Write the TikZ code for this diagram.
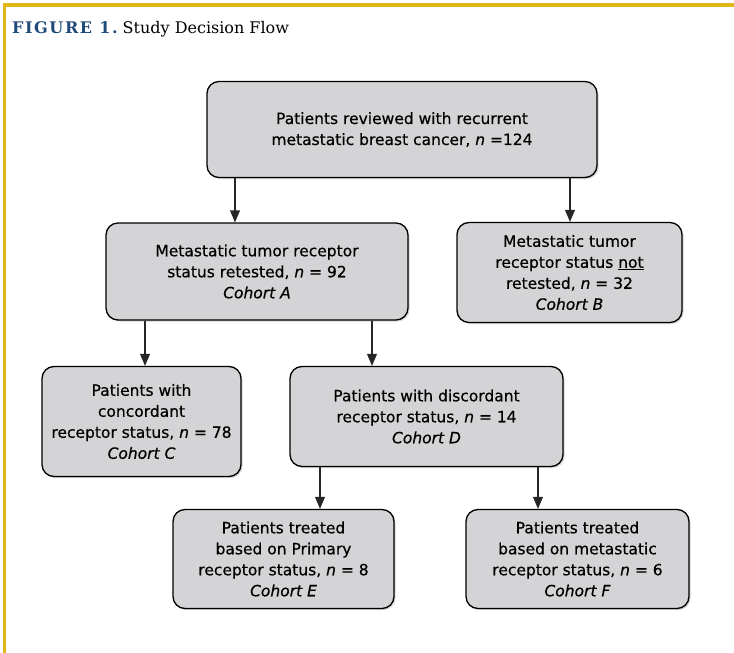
\documentclass[tikz,border=0pt]{standalone}
\usepackage{fontspec}
\setmainfont{DejaVu Sans}[FakeBold=0.5]
\newfontfamily\titlefont{DejaVu Serif}
\usepackage{tikz}
\usetikzlibrary{arrows,shadows}
\definecolor{gold}{HTML}{E2B616}
\definecolor{navy}{HTML}{1F4A7A}
\definecolor{boxgray}{HTML}{D4D4D6}
\newcommand{\nn}{\textit{n}}
\tikzset{
  flowbox/.style={draw=black, line width=1.3pt, fill=boxgray, rounded corners=12pt,
    align=center, inner sep=0pt, font=\fontsize{15.5}{21}\selectfont,
    drop shadow={shadow xshift=1.5pt, shadow yshift=-1.5pt, opacity=0.35}},
  flowarrow/.style={-triangle 45, line width=1.8pt, black!85}
}

\begin{document}
\begin{tikzpicture}[x=1pt,y=-1pt]
    \useasboundingbox (0,0) rectangle (734,653);
    % frame
    \draw [gold, line width=3.5pt] (3,5) -- (734,5);
    \draw [gold, line width=3.5pt] (4.5,3.5) -- (4.5,653);
    \node (title) [anchor=base west, inner sep=0pt] at (12,34)
      {\titlefont\fontsize{16}{18}\selectfont{\color{navy}\bfseries\addfontfeature{LetterSpace=10}FIGURE 1.}\ Study Decision Flow};

    \node (top) [flowbox, minimum width=390pt, minimum height=96pt] at (402,129.5)
      {Patients reviewed with recurrent\\ metastatic breast cancer, \nn{} =124};
    \node (A) [flowbox, minimum width=302pt, minimum height=97pt] at (257,271.5)
      {Metastatic tumor receptor\\ status retested, \nn{} = 92\\ \textit{Cohort A}};
    \node (B) [flowbox, minimum width=225pt, minimum height=100pt] at (569.5,272.5)
      {Metastatic tumor\\ receptor status \underline{not}\\ retested, \nn{} = 32\\ \textit{Cohort B}};
    \node (C) [flowbox, minimum width=199pt, minimum height=110pt] at (141.5,421.5)
      {Patients with\\ concordant\\ receptor status, \nn{} = 78\\ \textit{Cohort C}};
    \node (D) [flowbox, minimum width=273pt, minimum height=100pt] at (426.5,416.5)
      {Patients with discordant\\ receptor status, \nn{} = 14\\ \textit{Cohort D}};
    \node (E) [flowbox, minimum width=221pt, minimum height=99pt] at (283.5,559)
      {Patients treated\\ based on Primary\\ receptor status, \nn{} = 8\\ \textit{Cohort E}};
    \node (F) [flowbox, minimum width=223pt, minimum height=99pt] at (577.5,559)
      {Patients treated\\ based on metastatic\\ receptor status, \nn{} = 6\\ \textit{Cohort F}};

    \draw [flowarrow] ([xshift=-167pt]top.south) -- ([xshift=-167pt]top.south |- A.north);
    \draw [flowarrow] ([xshift=168pt]top.south) -- ([xshift=168pt]top.south |- B.north);
    \draw [flowarrow] ([xshift=-112pt]A.south) -- ([xshift=-112pt]A.south |- C.north);
    \draw [flowarrow] ([xshift=115pt]A.south) -- ([xshift=115pt]A.south |- D.north);
    \draw [flowarrow] ([xshift=-106.5pt]D.south) -- ([xshift=-106.5pt]D.south |- E.north);
    \draw [flowarrow] ([xshift=111.5pt]D.south) -- ([xshift=111.5pt]D.south |- F.north);
\end{tikzpicture}
\end{document}
